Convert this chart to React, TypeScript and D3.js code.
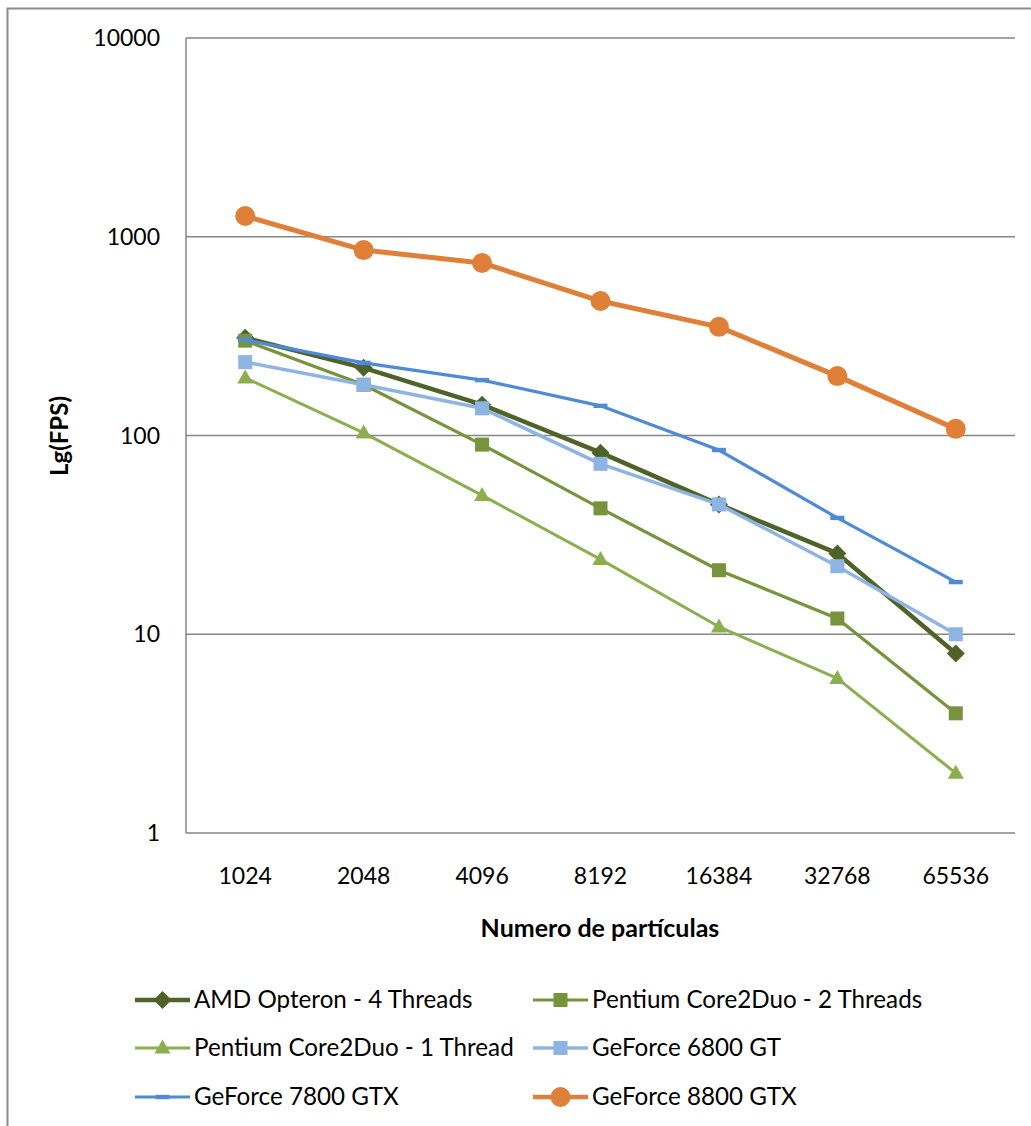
import React from "react";
import * as d3 from "d3";

const categories = ["1024", "2048", "4096", "8192", "16384", "32768", "65536"];
const amdOpteron4 = [310, 219, 143, 82, 45, 25.5, 8];
const pentium2 = [300, 180, 90, 43, 21, 12, 4];
const pentium1 = [195, 103, 50, 23.8, 10.9, 6, 2];
const geforce6800 = [234, 180, 137, 72, 45, 22, 10];
const geforce7800 = [303, 232, 190, 141, 84.5, 38.5, 18.3];
const geforce8800 = [1271, 857, 738, 475, 352, 199, 108];
const yTicks = [1, 10, 100, 1000, 10000];

const seriesNames = [
  "AMD Opteron - 4 Threads",
  "Pentium Core2Duo - 2 Threads",
  "Pentium Core2Duo - 1 Thread",
  "GeForce 6800 GT",
  "GeForce 7800 GTX",
  "GeForce 8800 GTX",
];
const seriesValues = [amdOpteron4, pentium2, pentium1, geforce6800, geforce7800, geforce8800];
const seriesColors = ["#4F6228", "#77933C", "#8BAF4F", "#8DB4E2", "#4F8AD6", "#E07F38"];
const seriesWidths = [4.5, 3.2, 3, 3.5, 3.2, 5];
const seriesMarkers = ["diamond", "square", "triangle", "square", "dash", "circle"];

const FONT = "Lato, 'Open Sans', sans-serif";

function Marker({ type, x, y, color }: { type: string; x: number; y: number; color: string }) {
  if (type === "diamond") {
    const r = 9;
    return <path d={`M${x},${y - r}L${x + r},${y}L${x},${y + r}L${x - r},${y}Z`} fill={color} />;
  }
  if (type === "square") {
    const s = 14;
    return <rect x={x - s / 2} y={y - s / 2} width={s} height={s} fill={color} />;
  }
  if (type === "triangle") {
    const h = 14, w = 16;
    return <path d={`M${x},${y - h * 0.6}L${x + w / 2},${y + h * 0.4}L${x - w / 2},${y + h * 0.4}Z`} fill={color} />;
  }
  if (type === "circle") {
    return <circle cx={x} cy={y} r={10} fill={color} />;
  }
  if (type === "dash") {
    return <rect x={x - 7} y={y - 2.2} width={14} height={4.4} fill={color} />;
  }
  return null;
}

export default function App() {
  const left = 186, right = 1015, top = 38, bottom = 833;
  const x = d3.scaleBand<string>().domain(categories).range([left, right]);
  const y = d3.scaleLog().domain([1, 10000]).range([bottom, top]);
  const cx = (c: string) => (x(c) as number) + x.bandwidth() / 2;
  const line = d3
    .line<number>()
    .x((_, i) => cx(categories[i]))
    .y((v) => y(v));

  const legendRows = [1000, 1048, 1097];
  const legendCols = [135, 533];

  return (
    <svg
      width={1031}
      height={1126}
      style={{ position: "absolute", left: 0, top: 0, display: "block", background: "#fff" }}
    >
      <rect x={7.5} y={8.5} width={1030} height={1130} fill="#fff" stroke="#8C8C8C" strokeWidth={2} />
      {yTicks.map((t) => (
        <g key={t}>
          <line x1={left} x2={right} y1={y(t)} y2={y(t)} stroke="#868686" strokeWidth={1.5} />
          <text x={160} y={y(t)} dy="0.35em" textAnchor="end" fontFamily={FONT} fontSize={23} fill="#000">
            {t}
          </text>
        </g>
      ))}
      <line x1={left} x2={left} y1={top} y2={bottom} stroke="#868686" strokeWidth={1.5} />
      {categories.map((c) => (
        <text key={c} x={cx(c)} y={876} dy="0.35em" textAnchor="middle" fontFamily={FONT} fontSize={23} fill="#000">
          {c}
        </text>
      ))}
      <text
        x={600}
        y={928}
        dy="0.35em"
        textAnchor="middle"
        fontFamily={FONT}
        fontSize={25}
        fontWeight="bold"
        fill="#000"
      >
        Numero de partículas
      </text>
      <text
        transform={`translate(60,436) rotate(-90)`}
        dy="0.35em"
        textAnchor="middle"
        fontFamily={FONT}
        fontSize={24}
        fontWeight="bold"
        fill="#000"
      >
        Lg(FPS)
      </text>
      {seriesValues.map((vals, si) => (
        <g key={si}>
          <path
            d={line(vals) as string}
            fill="none"
            stroke={seriesColors[si]}
            strokeWidth={seriesWidths[si]}
            strokeLinejoin="round"
          />
          {vals.map((v, i) => (
            <Marker key={i} type={seriesMarkers[si]} x={cx(categories[i])} y={y(v)} color={seriesColors[si]} />
          ))}
        </g>
      ))}
      {seriesNames.map((name, si) => {
        const col = si % 2;
        const row = Math.floor(si / 2);
        const lx = legendCols[col];
        const ly = legendRows[row];
        const lw = 55;
        return (
          <g key={name}>
            <line
              x1={lx}
              x2={lx + lw}
              y1={ly}
              y2={ly}
              stroke={seriesColors[si]}
              strokeWidth={Math.min(seriesWidths[si], 4.5)}
            />
            <Marker type={seriesMarkers[si]} x={lx + lw / 2} y={ly} color={seriesColors[si]} />
            <text x={lx + lw + 4} y={ly} dy="0.35em" fontFamily={FONT} fontSize={24.2} fill="#000">
              {name}
            </text>
          </g>
        );
      })}
    </svg>
  );
}
